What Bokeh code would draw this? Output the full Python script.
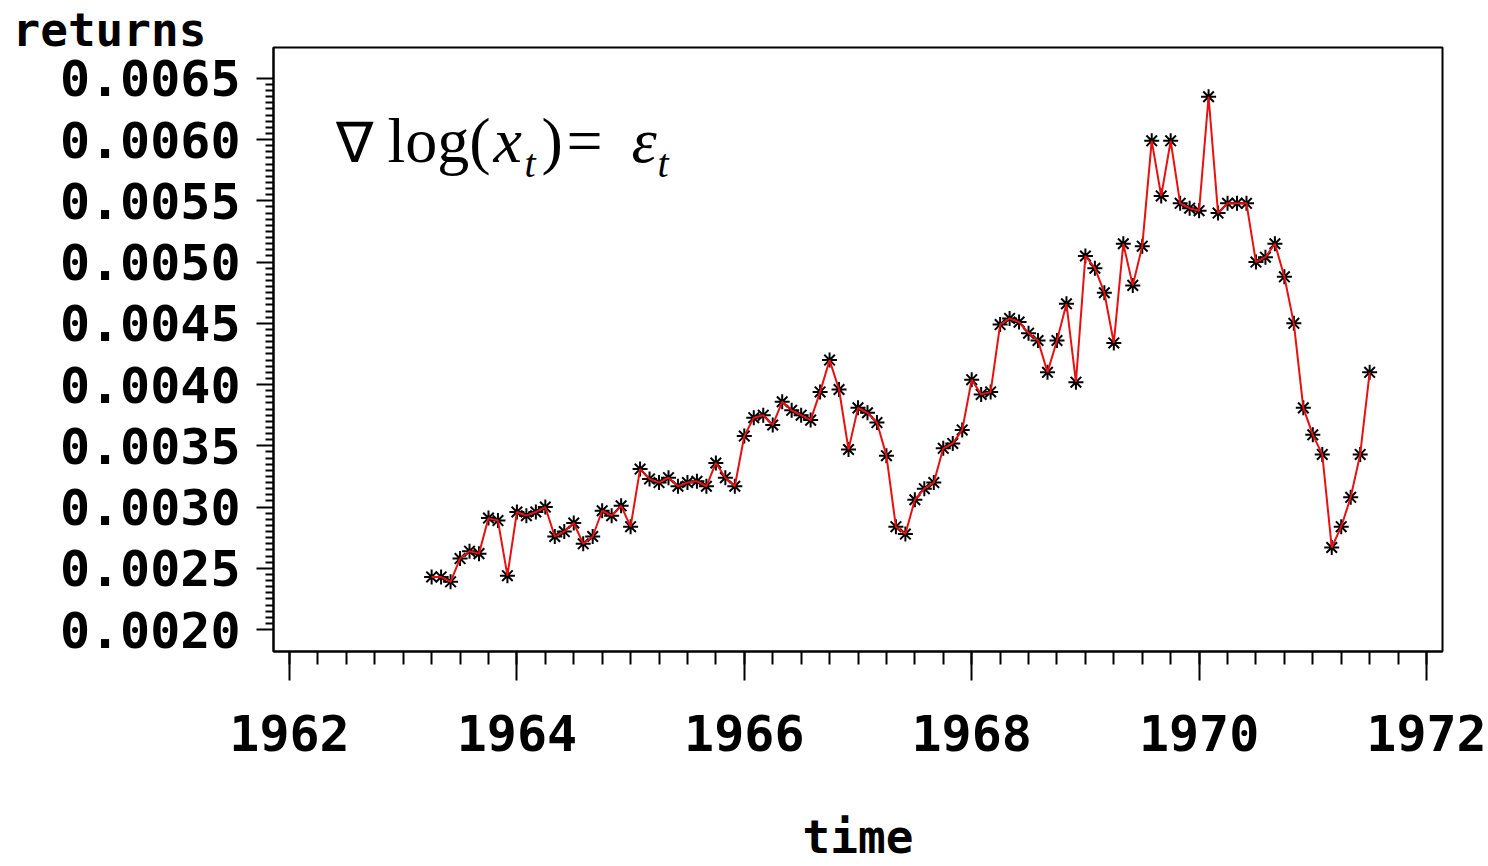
from bokeh.plotting import figure
from bokeh.models import Range1d, FixedTicker, PrintfTickFormatter, Label, Title
from bokeh.embed import file_html
from bokeh.resources import INLINE

# ---- data (monthly, Apr 1963 .. Jul 1971) ----
start_year = 1963
start_month = 4
r1963 = [0.00243, 0.00243, 0.00239, 0.00258, 0.00264, 0.00262, 0.00291, 0.00289, 0.00244]
r1964 = [0.00296, 0.00293, 0.00296, 0.00300, 0.00276, 0.00280, 0.00287, 0.00270, 0.00276, 0.00297, 0.00293, 0.00301]
r1965 = [0.00284, 0.00331, 0.00323, 0.00320, 0.00324, 0.00317, 0.00320, 0.00321, 0.00317, 0.00336, 0.00324, 0.00317]
r1966 = [0.00358, 0.00373, 0.00375, 0.00367, 0.00386, 0.00379, 0.00375, 0.00371, 0.00394, 0.00420, 0.00396, 0.00347]
r1967 = [0.00381, 0.00377, 0.00369, 0.00342, 0.00284, 0.00278, 0.00306, 0.00315, 0.00320, 0.00348, 0.00352, 0.00363]
r1968 = [0.00404, 0.00392, 0.00394, 0.00449, 0.00454, 0.00451, 0.00442, 0.00436, 0.00410, 0.00436, 0.00466, 0.00402]
r1969 = [0.00505, 0.00495, 0.00475, 0.00434, 0.00515, 0.00481, 0.00513, 0.00599, 0.00554, 0.00599, 0.00548, 0.00544]
r1970 = [0.00542, 0.00635, 0.00540, 0.00548, 0.00548, 0.00548, 0.00500, 0.00504, 0.00515, 0.00488, 0.00450, 0.00381]
r1971 = [0.00359, 0.00343, 0.00267, 0.00284, 0.00308, 0.00343, 0.00410]

returns = r1963 + r1964 + r1965 + r1966 + r1967 + r1968 + r1969 + r1970 + r1971
time = [start_year + (start_month - 1 + i) / 12 for i in range(len(returns))]

x_ticks = [1962, 1964, 1966, 1968, 1970, 1972]
y_ticks = [0.0020, 0.0025, 0.0030, 0.0035, 0.0040, 0.0045, 0.0050, 0.0055, 0.0060, 0.0065]

# ---- figure ----
p = figure(width=1488, height=866, title=None,
           x_range=Range1d(1961.8593, 1972.1407), y_range=Range1d(0.001821, 0.006752),
           output_backend="svg", toolbar_location=None,
           min_border_left=273, min_border_right=46, min_border_top=47, min_border_bottom=213)
p.background_fill_color = "white"
p.border_fill_color = "white"
p.outline_line_color = "black"
p.outline_line_width = 2
p.outline_line_alpha = 1.0
p.grid.visible = False

xa = p.xaxis[0]
xa.ticker = FixedTicker(ticks=x_ticks,
                        minor_ticks=[1962 + q * 0.25 for q in range(41)])
xa.axis_line_width = 2
xa.major_tick_line_width = 2
xa.minor_tick_line_width = 2
xa.major_tick_out = 29
xa.major_tick_in = 0
xa.minor_tick_out = 13
xa.minor_tick_in = 0
xa.major_label_standoff = 34
xa.major_label_text_font = "DejaVu Sans Mono"
xa.major_label_text_font_style = "bold"
xa.major_label_text_font_size = "50px"
xa.major_label_text_color = "black"
xa.axis_label = "time"
xa.axis_label_standoff = 56
xa.axis_label_text_font = "DejaVu Sans Mono"
xa.axis_label_text_font_style = "bold"
xa.axis_label_text_font_size = "46px"
xa.axis_label_text_color = "black"

ya = p.yaxis[0]
ya.ticker = FixedTicker(ticks=y_ticks,
                        minor_ticks=[0.0020 + k * 0.00005 for k in range(91) if k % 10])
ya.formatter = PrintfTickFormatter(format="%.4f")
ya.axis_line_width = 2
ya.major_tick_line_width = 2
ya.minor_tick_line_width = 2
ya.major_tick_out = 17
ya.major_tick_in = 0
ya.minor_tick_out = 8
ya.minor_tick_in = 0
ya.major_label_standoff = 16
ya.major_label_text_font = "DejaVu Sans Mono"
ya.major_label_text_font_style = "bold"
ya.major_label_text_font_size = "50px"
ya.major_label_text_color = "black"

# ---- y title (top-left, horizontal) ----
p.add_layout(Title(text="returns", align="left", vertical_align="bottom",
                   offset=-261, standoff=-18,
                   text_font="DejaVu Sans Mono", text_font_style="bold",
                   text_font_size="46px", text_color="black"), "above")

# ---- series ----
p.scatter(time, returns, marker="asterisk", size=15, line_color="black", line_width=2)
p.line(time, returns, line_color="#e81010", line_width=2)

# ---- formula ----
f_base = 0.0059954
f_nabla = 0.0059711
f_sub = 0.0058042
def piece(x, y, text, size, style="normal"):
    p.add_layout(Label(x=x, y=y, text=text, text_font="Liberation Serif",
                       text_font_style=style, text_font_size=size,
                       text_align="left", text_baseline="alphabetic", text_color="black"))

piece(1962.4046, f_nabla, "∇", "56px")
piece(1962.8619, f_base, "log(", "64px")
piece(1963.7942, f_base, "x", "64px", "italic")
piece(1964.0669, f_sub, "t", "40px", "italic")
piece(1964.2164, f_base, ")", "64px")
piece(1964.4363, f_base, "=", "64px")
piece(1965.0079, f_base, "ε", "64px", "italic")
piece(1965.2366, f_sub, "t", "40px", "italic")

open("out.html", "w").write(file_html(p, INLINE))
